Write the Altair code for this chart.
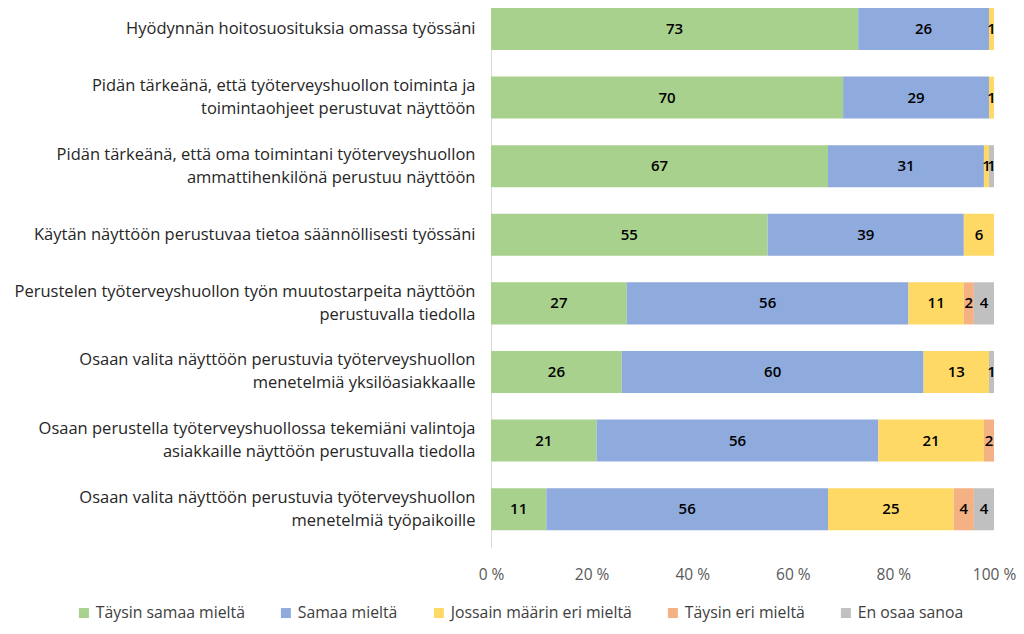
import altair as alt
import pandas as pd

statements = [
    "Hyödynnän hoitosuosituksia omassa työssäni",
    "Pidän tärkeänä, että työterveyshuollon toiminta ja|toimintaohjeet perustuvat näyttöön",
    "Pidän tärkeänä, että oma toimintani työterveyshuollon|ammattihenkilönä perustuu näyttöön",
    "Käytän näyttöön perustuvaa tietoa säännöllisesti työssäni",
    "Perustelen työterveyshuollon työn muutostarpeita näyttöön|perustuvalla tiedolla",
    "Osaan valita näyttöön perustuvia työterveyshuollon|menetelmiä yksilöasiakkaalle",
    "Osaan perustella työterveyshuollossa tekemiäni valintoja|asiakkaille näyttöön perustuvalla tiedolla",
    "Osaan valita näyttöön perustuvia työterveyshuollon|menetelmiä työpaikoille",
]

categories = [
    "Täysin samaa mieltä",
    "Samaa mieltä",
    "Jossain määrin eri mieltä",
    "Täysin eri mieltä",
    "En osaa sanoa",
]
colors = ["#A9D18E", "#8FAADC", "#FFD966", "#F4B183", "#C0C0C0"]

taysin_samaa = [73, 70, 67, 55, 27, 26, 21, 11]
samaa = [26, 29, 31, 39, 56, 60, 56, 56]
jossain = [1, 1, 1, 6, 11, 13, 21, 25]
taysin_eri = [0, 0, 0, 0, 2, 0, 2, 4]
en_osaa = [0, 0, 1, 0, 4, 1, 0, 4]

series = [taysin_samaa, samaa, jossain, taysin_eri, en_osaa]

rows = []
for ci, (cat, vals) in enumerate(zip(categories, series)):
    for s, v in zip(statements, vals):
        rows.append({"statement": s, "category": cat, "order": ci, "value": v})
df = pd.DataFrame(rows)

FONT = "Open Sans"

base = alt.Chart(df).transform_filter(
    alt.datum.value > 0
).transform_stack(
    stack="value",
    as_=["x0", "x1"],
    groupby=["statement"],
    sort=[alt.SortField("order", order="ascending")],
    offset="normalize",
).transform_calculate(
    mid="(datum.x0 + datum.x1) / 2"
)

y_enc = alt.Y(
    "statement:N",
    sort=statements,
    scale=alt.Scale(paddingInner=0.3875, paddingOuter=0.13, align=0),
    axis=alt.Axis(
        title=None,
        ticks=False,
        grid=False,
        domainColor="#D9D9D9",
        domainWidth=1,
        labelExpr="split(datum.label, '|')",
        labelFont=FONT,
        labelFontSize=16.5,
        labelColor="#262626",
        labelPadding=16,
        labelLineHeight=23,
        labelLimit=600,
        labelOffset=alt.condition(
            "indexof(datum.value, '|') >= 0", alt.value(-11.5), alt.value(0)
        ),
    ),
)

bars = base.mark_bar().encode(
    x=alt.X(
        "x0:Q",
        scale=alt.Scale(domain=[0, 1]),
        axis=alt.Axis(
            title=None,
            values=[0, 0.2, 0.4, 0.6, 0.8, 1.0],
            labelExpr="format(datum.value * 100, '.0f') + ' %'",
            labelFlush=False,
            domain=False,
            ticks=False,
            grid=False,
            labelFont=FONT,
            labelFontSize=15.5,
            labelColor="#595959",
            labelPadding=19,
        ),
    ),
    x2="x1:Q",
    y=y_enc,
    color=alt.Color(
        "category:N",
        scale=alt.Scale(domain=categories, range=colors),
        legend=alt.Legend(
            title=None,
            orient="none",
            direction="horizontal",
            legendX=-415,
            legendY=597,
            symbolType="square",
            symbolSize=100,
            symbolStrokeWidth=0,
            labelFont=FONT,
            labelFontSize=15.8,
            labelColor="#404040",
            labelOffset=4,
            labelLimit=400,
            columnPadding=33,
            padding=0,
        ),
    ),
    order=alt.Order("order:Q"),
)

labels = base.mark_text(font=FONT, fontSize=15, color="#000000", fontWeight=600).encode(
    x="mid:Q",
    y=alt.Y("statement:N", sort=statements),
    text="value:Q",
)

chart = alt.layer(bars, labels).properties(
    width=503,
    height=540,
    autosize=alt.AutoSizeParams(type="none"),
    padding={"left": 483, "top": 0, "right": 22, "bottom": 76},
).configure_view(stroke=None)

chart.save("out.html", embed_options={"renderer": "svg", "actions": False})
